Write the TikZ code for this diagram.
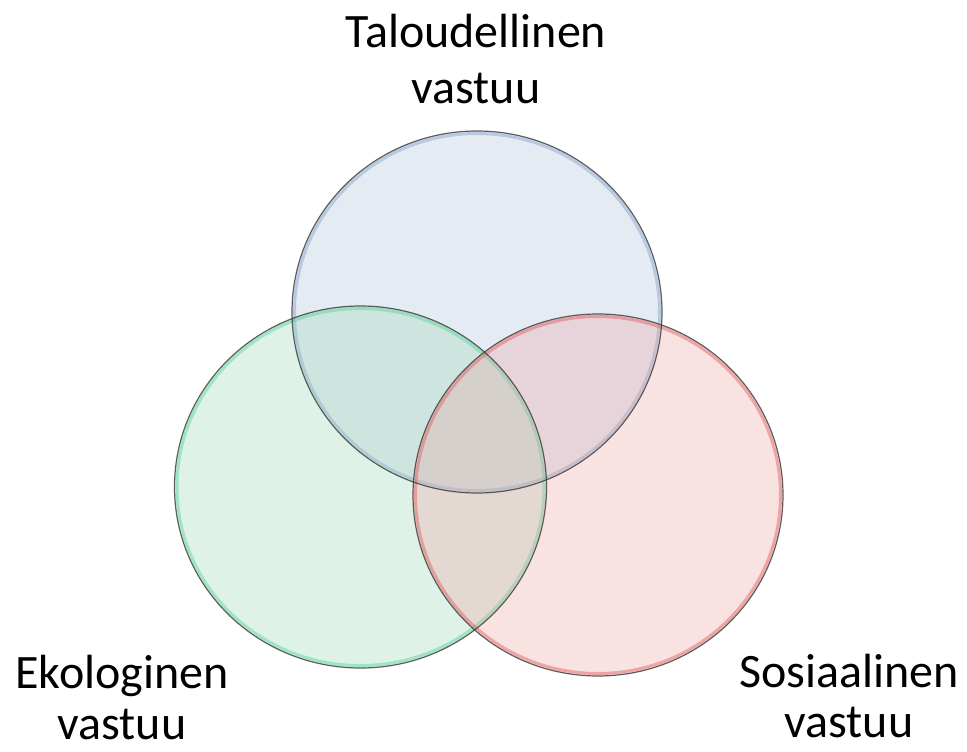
\documentclass[tikz,border=0pt]{standalone}
\usepackage{fontspec}
\setmainfont{Carlito}
\definecolor{cblue}{RGB}{172,192,218}
\definecolor{cgreen}{RGB}{150,212,180}
\definecolor{cred}{RGB}{238,162,162}
\definecolor{rblue}{RGB}{130,160,205}
\definecolor{rgreen}{RGB}{80,215,150}
\definecolor{rred}{RGB}{225,90,90}
\definecolor{rimline}{RGB}{55,55,55}
\tikzset{
  venn/.style={fill=#1, fill opacity=0.3},
  rim/.style={draw=#1, line width=3pt, draw opacity=0.45},
  outl/.style={draw=rimline, line width=1.2pt, draw opacity=0.8},
  lbl/.style={align=center, anchor=base, inner sep=0pt, text=black}
}
\begin{document}
\begin{tikzpicture}[x=1pt,y=-1pt]
\useasboundingbox (0,0) rectangle (967,752);
\fill[white] (0,0) rectangle (967,752);
% circles
\path[venn=cblue] (477,312) ellipse [x radius=185pt, y radius=181pt];
\path[rim=rblue] (477,312) ellipse [x radius=182.5pt, y radius=178.5pt];
\path[venn=cgreen] (360.5,487) ellipse [x radius=186pt, y radius=181pt];
\path[rim=rgreen] (360.5,487) ellipse [x radius=183.5pt, y radius=178.5pt];
\path[venn=cred] (598,495) ellipse [x radius=185pt, y radius=181pt];
\path[rim=rred] (598,495) ellipse [x radius=182.5pt, y radius=178.5pt];
% outlines
\path[outl] (477,312) ellipse [x radius=185pt, y radius=181pt];
\path[outl] (360.5,487) ellipse [x radius=186pt, y radius=181pt];
\path[outl] (598,495) ellipse [x radius=185pt, y radius=181pt];
% labels (anchor = baseline of the last line)
\node[lbl, font=\fontsize{48}{56}\selectfont] (tal) at (476,103) {Taloudellinen\\vastuu};
\node[lbl, font=\fontsize{48}{51}\selectfont] (eko) at (122,739) {Ekologinen\\vastuu};
\node[lbl, font=\fontsize{48}{50}\selectfont] (sos) at (849,737) {Sosiaalinen\\vastuu};
\end{tikzpicture}
\end{document}
